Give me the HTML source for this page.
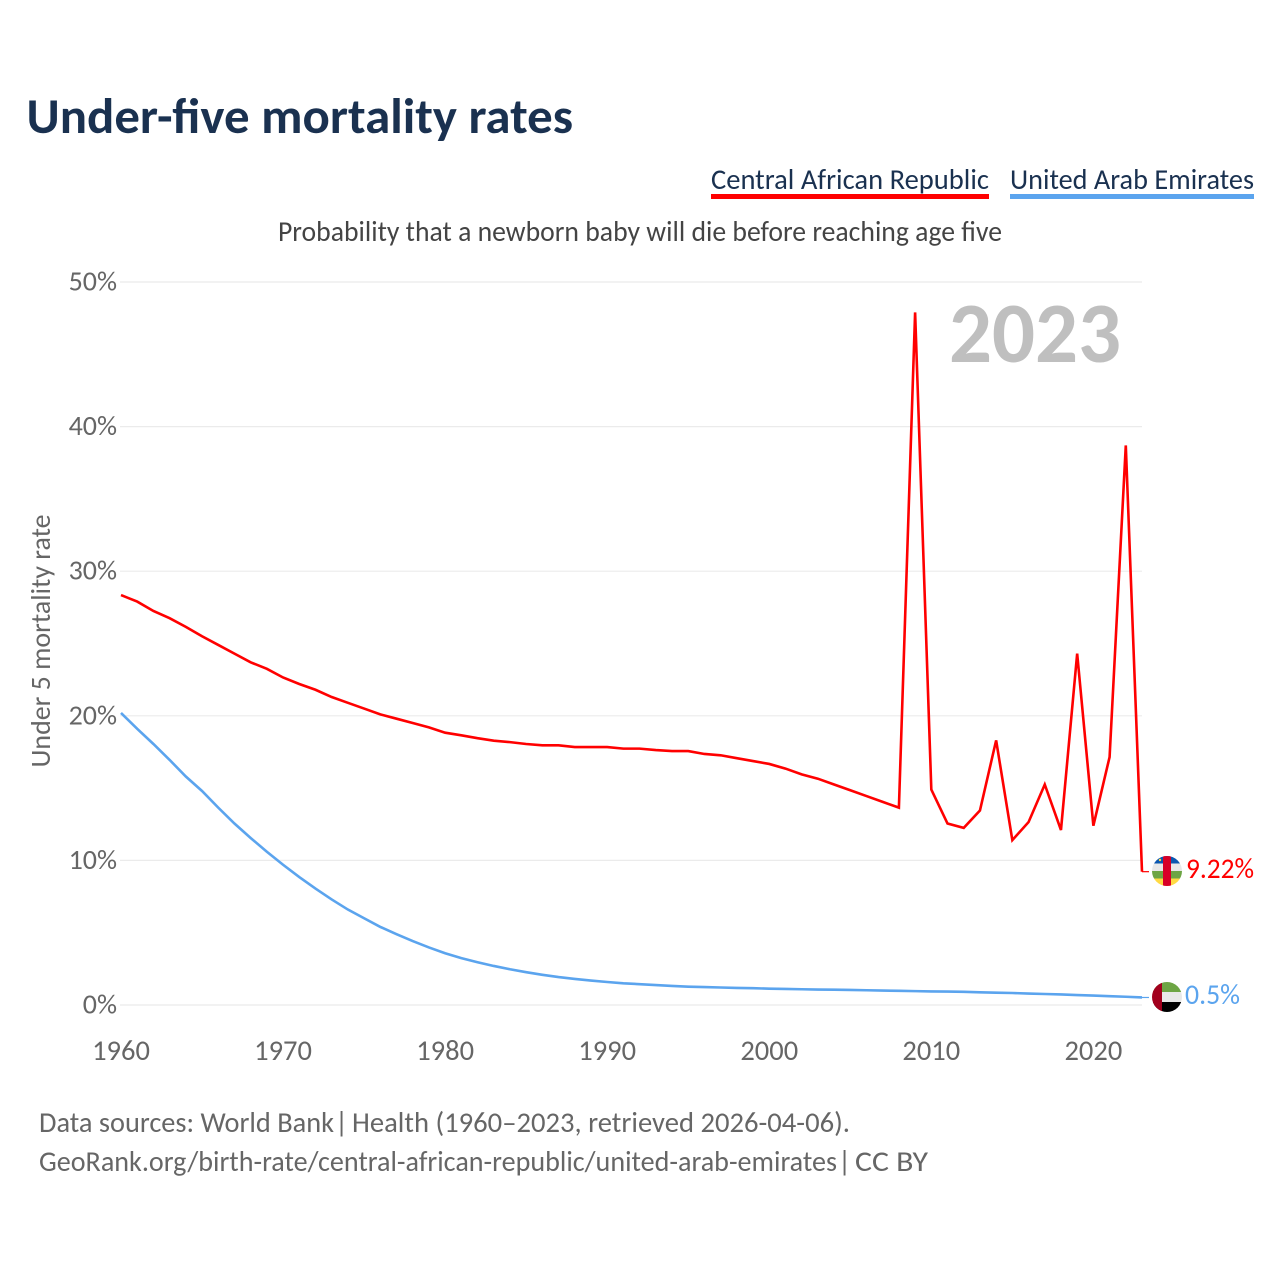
<!DOCTYPE html>
<html lang="en">
<head>
<meta charset="utf-8">
<title>Under-five mortality rates</title>
<style>
html,body{margin:0;padding:0;background:#fff;width:1280px;height:1280px;overflow:hidden}
svg{display:block}
text{font-family:"Carlito","Lato","Liberation Sans",sans-serif}
</style>
</head>
<body>
<svg id="chart" xmlns="http://www.w3.org/2000/svg" width="1280" height="1280" viewBox="0 0 1280 1280">
  <rect width="1280" height="1280" fill="#fff"/>
  <text x="26.5" y="133" font-size="50" font-weight="700" fill="#1a3150" textLength="546.5" lengthAdjust="spacingAndGlyphs">Under-five mortality rates</text>

  <g>
    <text x="711" y="189" font-size="28.5" fill="#1a3150" textLength="278" lengthAdjust="spacingAndGlyphs">Central African Republic</text>
    <rect x="711" y="194" width="278" height="5" fill="#ff0000"/>
  </g>
  <g>
    <text x="1010" y="189" font-size="28.5" fill="#1a3150" textLength="244" lengthAdjust="spacingAndGlyphs">United Arab Emirates</text>
    <rect x="1010" y="194" width="244" height="5" fill="#5ba4ee"/>
  </g>

  <text x="278" y="241" font-size="28.5" fill="#444444" textLength="724" lengthAdjust="spacingAndGlyphs">Probability that a newborn baby will die before reaching age five</text>
  <text transform="translate(50,641) rotate(-90)" text-anchor="middle" font-size="27.5" fill="#666666" textLength="253" lengthAdjust="spacingAndGlyphs">Under 5 mortality rate</text>

  <g id="grid"></g>
  <g id="yticks"></g>
  <g id="xticks"></g>

  <text x="949" y="362" font-size="86" font-weight="700" fill="#bfbfbf" textLength="172" lengthAdjust="spacingAndGlyphs">2023</text>

  <g id="series"></g>

  <defs>
    <clipPath id="flag-clip-caf"><circle cx="1167" cy="871" r="15"/></clipPath>
    <clipPath id="flag-clip-uae"><circle cx="1167" cy="997" r="15"/></clipPath>
  </defs>
  <g clip-path="url(#flag-clip-caf)">
    <rect x="1152" y="856" width="30" height="7.5" fill="#0b57b0"/>
    <rect x="1152" y="863.5" width="30" height="7.5" fill="#e8e8e8"/>
    <rect x="1152" y="871" width="30" height="7.5" fill="#6da544"/>
    <rect x="1152" y="878.5" width="30" height="7.5" fill="#ffda44"/>
    <rect x="1163" y="856" width="8" height="30" fill="#d80027"/>
    <circle cx="1160" cy="860" r="1.2" fill="#ffda44"/>
  </g>
  <g clip-path="url(#flag-clip-uae)">
    <rect x="1152" y="982" width="30" height="10" fill="#6da544"/>
    <rect x="1152" y="992" width="30" height="10" fill="#e8e8e8"/>
    <rect x="1152" y="1002" width="30" height="10" fill="#000000"/>
    <rect x="1152" y="982" width="10" height="30" fill="#a2001d"/>
  </g>
  <text x="1186" y="878" font-size="28.5" fill="#ff0000" textLength="68" lengthAdjust="spacingAndGlyphs">9.22%</text>
  <text x="1185" y="1004" font-size="28.5" fill="#5ba4ee" textLength="55" lengthAdjust="spacingAndGlyphs">0.5%</text>

  <g font-size="28.5" fill="#666666">
    <text x="39" y="1132" textLength="295" lengthAdjust="spacingAndGlyphs">Data sources: World Bank</text>
    <text x="335" y="1132">|</text>
    <text x="352" y="1132" textLength="498" lengthAdjust="spacingAndGlyphs">Health (1960–2023, retrieved 2026-04-06).</text>
  </g>
  <g font-size="28.5" fill="#666666">
    <text x="39" y="1171" textLength="798" lengthAdjust="spacingAndGlyphs">GeoRank.org/birth-rate/central-african-republic/united-arab-emirates</text>
    <text x="838" y="1171">|</text>
    <text x="855" y="1171" textLength="73" lengthAdjust="spacingAndGlyphs">CC BY</text>
  </g>
</svg>
<script>
const firstYear = 1960;
const carValues = [28.35,27.9,27.25,26.75,26.15,25.5,24.9,24.3,23.7,23.25,22.65,22.2,21.8,21.3,20.9,20.5,20.1,19.8,19.5,19.2,18.83,18.65,18.45,18.28,18.18,18.05,17.96,17.96,17.84,17.84,17.84,17.73,17.73,17.63,17.56,17.56,17.36,17.27,17.07,16.87,16.67,16.35,15.95,15.65,15.25,14.85,14.45,14.05,13.65,47.9,14.9,12.55,12.25,13.45,18.3,11.4,12.65,15.25,12.1,24.3,12.4,17.15,38.7,9.22];
const uaeValues = [20.2,19.1,18.05,16.95,15.8,14.8,13.65,12.55,11.55,10.6,9.7,8.85,8.05,7.3,6.6,6.0,5.4,4.9,4.42,3.98,3.58,3.24,2.96,2.7,2.47,2.27,2.09,1.93,1.8,1.69,1.59,1.5,1.44,1.38,1.32,1.27,1.24,1.21,1.18,1.16,1.13,1.11,1.09,1.07,1.06,1.04,1.02,1.0,0.98,0.96,0.94,0.93,0.91,0.88,0.85,0.83,0.79,0.76,0.73,0.69,0.65,0.61,0.57,0.52];
const yTickValues = [0,10,20,30,40,50];
const yTickLabels = ["0%","10%","20%","30%","40%","50%"];
const xTickValues = [1960,1970,1980,1990,2000,2010,2020];
const xTickLabels = ["1960","1970","1980","1990","2000","2010","2020"];

const SVGNS = "http://www.w3.org/2000/svg";
const lastYear = firstYear + carValues.length - 1;
const xLeft = 121, xRight = 1142, yZero = 1005, yTop = 282;
function xScale(year){ return xLeft + (year - firstYear) * (xRight - xLeft) / 63; }
function yScale(v){ return yZero - v * (yZero - yTop) / 50; }

const grid = document.getElementById("grid");
const yticks = document.getElementById("yticks");
const xticks = document.getElementById("xticks");
const series = document.getElementById("series");

yTickValues.forEach(function(v, i){
  const line = document.createElementNS(SVGNS, "line");
  
  
  line.setAttribute("x1", xLeft - 1);
  line.setAttribute("x2", xRight);
  line.setAttribute("y1", yScale(v));
  line.setAttribute("y2", yScale(v));
  line.setAttribute("stroke", "#ebebeb");
  line.setAttribute("stroke-width", "1.2");
  grid.appendChild(line);

  const label = document.createElementNS(SVGNS, "text");
  
  
  label.setAttribute("x", 117);
  label.setAttribute("y", yScale(v) + 8.5);
  label.setAttribute("text-anchor", "end");
  label.setAttribute("font-size", "28");
  label.setAttribute("fill", "#666666");
  label.textContent = yTickLabels[i];
  yticks.appendChild(label);
});

xTickValues.forEach(function(v, i){
  const label = document.createElementNS(SVGNS, "text");
  
  
  label.setAttribute("x", xScale(v));
  label.setAttribute("y", 1060);
  label.setAttribute("text-anchor", "middle");
  label.setAttribute("font-size", "28.5");
  label.setAttribute("fill", "#666666");
  label.textContent = xTickLabels[i];
  xticks.appendChild(label);
});

function seriesPath(values){
  let d = "";
  values.forEach(function(v, i){
    d += (i ? "L" : "M") + xScale(firstYear + i).toFixed(2) + " " + yScale(v).toFixed(2);
  });
  return d;
}

const uaeLine = document.createElementNS(SVGNS, "path");


uaeLine.setAttribute("d", seriesPath(uaeValues));
uaeLine.setAttribute("fill", "none");
uaeLine.setAttribute("stroke", "#5ba4ee");
uaeLine.setAttribute("stroke-width", "2.6");
series.appendChild(uaeLine);

const carLine = document.createElementNS(SVGNS, "path");


carLine.setAttribute("d", seriesPath(carValues));
carLine.setAttribute("fill", "none");
carLine.setAttribute("stroke", "#ff0000");
carLine.setAttribute("stroke-width", "2.6");
carLine.setAttribute("stroke-linejoin", "miter");
series.appendChild(carLine);

const carLeader = document.createElementNS(SVGNS, "line");


carLeader.setAttribute("x1", xScale(lastYear));
carLeader.setAttribute("x2", xScale(lastYear) + 7);
carLeader.setAttribute("y1", yScale(carValues[carValues.length - 1]));
carLeader.setAttribute("y2", yScale(carValues[carValues.length - 1]));
carLeader.setAttribute("stroke", "#ff0000");
carLeader.setAttribute("stroke-width", "1.2");
series.appendChild(carLeader);

const uaeLeader = document.createElementNS(SVGNS, "line");


uaeLeader.setAttribute("x1", xScale(lastYear));
uaeLeader.setAttribute("x2", xScale(lastYear) + 7);
uaeLeader.setAttribute("y1", yScale(uaeValues[uaeValues.length - 1]));
uaeLeader.setAttribute("y2", yScale(uaeValues[uaeValues.length - 1]));
uaeLeader.setAttribute("stroke", "#5ba4ee");
uaeLeader.setAttribute("stroke-width", "1.2");
series.appendChild(uaeLeader);
</script>
</body>
</html>
